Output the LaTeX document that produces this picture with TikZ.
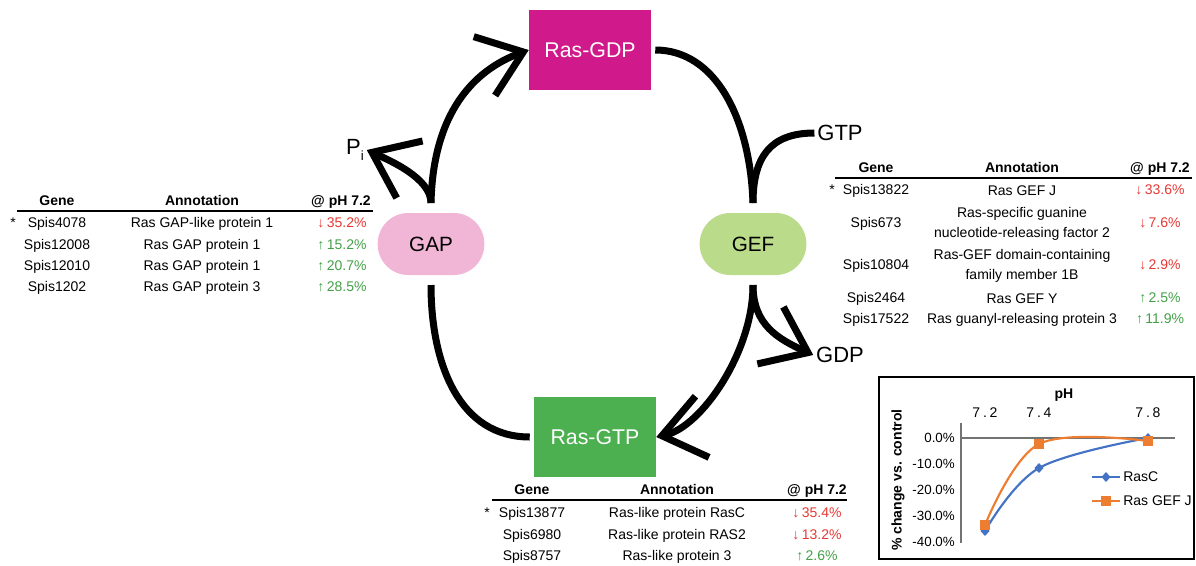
\documentclass[tikz,border=0pt]{standalone}
\usepackage{fontspec}
\setmainfont{Liberation Sans}
\usetikzlibrary{positioning,calc,arrows.meta}
\definecolor{RasMagenta}{HTML}{D0198A}
\definecolor{RasGreen}{HTML}{4CAF50}
\definecolor{GAPpink}{HTML}{F1B6D6}
\definecolor{GEFgreen}{HTML}{BADB89}
\definecolor{DownRed}{HTML}{E53935}
\definecolor{UpGreen}{HTML}{43A047}
\definecolor{RasCblue}{HTML}{4472C4}
\definecolor{GEFJorange}{HTML}{ED7D31}
\newcommand{\decr}[1]{\textcolor{DownRed}{↓\,#1}}
\newcommand{\incr}[1]{\textcolor{UpGreen}{↑\,#1}}
\tikzset{
  rasbox/.style={fill=#1, text=white, minimum width=91.5pt, minimum height=60pt, font=\fontsize{16}{19}\selectfont},
  pill/.style={fill=#1, rounded corners=23pt, minimum width=80pt, minimum height=46.5pt, font=\fontsize{15.5}{18}\selectfont, outer sep=7.5pt},
  molec/.style={font=\fontsize{16.5}{19}\selectfont, inner sep=2pt},
  cyc/.style={line width=5.25pt},
  barb/.style={-{Straight Barb[sharp,length=31pt,width=47pt]}},
  tbl/.style={font=\fontsize{10.5}{16.5}\selectfont, text height=7.5pt, text depth=2pt, inner sep=0pt},
  tblml/.style={font=\fontsize{10.5}{15}\selectfont, align=center, inner sep=0pt},
  hdr/.style={tbl, font=\fontsize{10.5}{16.5}\selectfont\bfseries},
  rule/.style={line width=1.1pt},
  chartfont/.style={font=\fontsize{10}{12}\selectfont}
}

\begin{document}
\begin{tikzpicture}[x=0.75pt,y=-0.75pt]
\useasboundingbox (0,0) rectangle (1196,565);
% cycle
\node[rasbox=RasMagenta] (rasgdp) at (590,50) {Ras-GDP};
\node[rasbox=RasGreen] (rasgtp) at (595,437) {Ras-GTP};
\node[pill=GAPpink] (gap) at (431,244) {GAP};
\node[pill=GEFgreen] (gef) at (753,244) {GEF};
\node[molec] (gtp) at (840,133) {GTP};
\node[molec] (gdp) at (840,355) {GDP};
\node[molec] (pi) at (355,150) {P\raisebox{-5pt}{\fontsize{10}{10}\selectfont i}};
\draw[cyc,barb] (gap.north) .. controls +(2,-90) and +(-55,20) .. (rasgdp.west);
\draw[cyc,barb] (gap.north) .. controls +(0,-25) and +(22,10) .. (pi.east);
\draw[cyc] ([xshift=3pt]rasgdp.east) .. controls +(60,0) and +(-3,-85) .. (gef.north);
\draw[cyc] (gtp.west) .. controls +(-45,0) and +(0,-45) .. (gef.north);
\draw[cyc,barb] (gef.south) .. controls +(0,40) and +(-35,-16) .. (gdp.west);
\draw[cyc,barb] (gef.south) .. controls +(0,67) and +(45,-10) .. (rasgtp.east);
\draw[cyc] ([xshift=-3pt]rasgtp.west) .. controls +(-70,0) and +(0,80) .. (gap.south);
% GAP table
\node[hdr] (gaphg) at (57,202) {Gene};
\node[hdr] (gapha) at (202,202) {Annotation};
\node[hdr] (gaphv) at (341,202) {@ pH 7.2};
\draw[rule] (17,211) -- (373,211);
\node[tbl] (gapstar) at (13,224) {*};
\foreach \y/\g/\a/\v [count=\i] in {224/Spis4078/Ras GAP-like protein 1/\decr{35.2\%},
    246/Spis12008/Ras GAP protein 1/\incr{15.2\%},267/Spis12010/Ras GAP protein 1/\incr{20.7\%},
    288/Spis1202/Ras GAP protein 3/\incr{28.5\%}}{
  \node[tbl] (gapgene\i) at (57,\y) {\g};
  \node[tbl] (gapann\i) at (202,\y) {\a};
  \node[tbl] (gapval\i) at (342,\y) {\v};
}
% GEF table
\node[hdr] (gefhg) at (876,169) {Gene};
\node[hdr] (gefha) at (1022,169) {Annotation};
\node[hdr] (gefhv) at (1160,169) {@ pH 7.2};
\draw[rule] (835,178) -- (1192,178);
\node[tbl] (gefstar) at (832,191) {*};
\foreach \y/\g/\a/\v [count=\i] in {191/Spis13822/Ras GEF J/\decr{33.6\%},
    224/Spis673/Ras-specific guanine\\nucleotide-releasing factor 2/\decr{7.6\%},
    266/Spis10804/Ras-GEF domain-containing\\family member 1B/\decr{2.9\%},
    299/Spis2464/Ras GEF Y/\incr{2.5\%},320/Spis17522/Ras guanyl-releasing protein 3/\incr{11.9\%}}{
  \node[tbl] (gefgene\i) at (876,\y) {\g};
  \node[tblml] (gefann\i) at (1022,\y) {\a};
  \node[tbl] (gefval\i) at (1160,\y) {\v};
}
% Ras table
\node[hdr] (rashg) at (532,491) {Gene};
\node[hdr] (rasha) at (677,491) {Annotation};
\node[hdr] (rashv) at (817,491) {@ pH 7.2};
\draw[rule] (492,500) -- (847,500);
\node[tbl] (rasstar) at (487,514) {*};
\foreach \y/\g/\a/\v [count=\i] in {514/Spis13877/Ras-like protein RasC/\decr{35.4\%},
    536/Spis6980/Ras-like protein RAS2/\decr{13.2\%},557/Spis8757/Ras-like protein 3/\incr{2.6\%}}{
  \node[tbl] (rasgene\i) at (532,\y) {\g};
  \node[tbl] (rasann\i) at (677,\y) {\a};
  \node[tbl] (rasval\i) at (817,\y) {\v};
}
% pH chart
\draw[line width=1.1pt] (879,377) rectangle (1194,559);
\node[chartfont,font=\fontsize{10.5}{12}\selectfont\bfseries] (phtitle) at (1064,395) {pH};
\foreach \p/\x in {7.2/985,7.4/1039,7.8/1148}
  \node[font=\fontsize{10.5}{12}\selectfont\addfontfeatures{LetterSpace=20}] (tick\x) at (\x,413) {\p};
\node[rotate=90,font=\fontsize{10.5}{12}\selectfont\bfseries] (ytitle) at (898,480) {\% change vs. control};
\foreach \v [count=\i from 0] in {0.0,-10.0,-20.0,-30.0,-40.0}
  \node[chartfont,anchor=east,inner sep=0pt] (ylab\i) at (955,438+26*\i) {\v\%};
\draw[black!55,line width=0.9pt] (961,438) -- (1175,438);
\draw[black!55,line width=0.9pt] (961,423) -- (961,543);
\draw[RasCblue,line width=1.6pt] plot[smooth,tension=0.6] coordinates {(985,531) (1039,468) (1148,438)};
\draw[GEFJorange,line width=1.6pt] plot[smooth,tension=0.6] coordinates {(985,525) (1039,444) (1148,441)};
\foreach \pt in {(985,531),(1039,468),(1148,438),(1106,477)}
  \fill[RasCblue] \pt +(-4.5,0) -- +(0,-5) -- +(4.5,0) -- +(0,5) -- cycle;
\foreach \pt in {(985,525),(1039,444),(1148,441),(1106,501)}
  \fill[GEFJorange] \pt +(-5,-5) rectangle +(5,5);
\draw[RasCblue,line width=1.6pt] (1092,477) -- (1120,477);
\draw[GEFJorange,line width=1.6pt] (1092,501) -- (1120,501);
\node[chartfont,anchor=west,inner sep=0pt,font=\fontsize{10.5}{12}\selectfont] (legrasc) at (1123,477) {RasC};
\node[chartfont,anchor=west,inner sep=0pt,font=\fontsize{10.5}{12}\selectfont] (leggefj) at (1123,501) {Ras GEF J};
\end{tikzpicture}
\end{document}
